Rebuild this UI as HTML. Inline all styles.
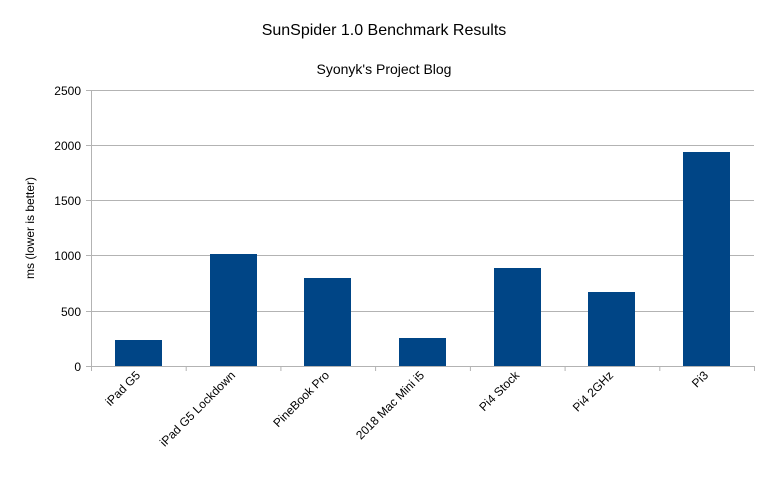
<!DOCTYPE html>
<html><head><style>body{margin:0;background:#fff}svg{display:block}</style></head><body>
<svg width="768" height="480" xmlns="http://www.w3.org/2000/svg" font-family="Liberation Sans, sans-serif">
<rect width="768" height="480" fill="#fff"/>
<text x="384" y="35" text-anchor="middle" font-size="16">SunSpider 1.0 Benchmark Results</text>
<text x="384" y="74" text-anchor="middle" font-size="14">Syonyk's Project Blog</text>
<g stroke="#b3b3b3" stroke-width="1">
<line x1="86" y1="90.5" x2="754" y2="90.5"/>
<line x1="86" y1="145.5" x2="754" y2="145.5"/>
<line x1="86" y1="200.5" x2="754" y2="200.5"/>
<line x1="86" y1="255.5" x2="754" y2="255.5"/>
<line x1="86" y1="311.5" x2="754" y2="311.5"/>
<line x1="86" y1="366.5" x2="754" y2="366.5"/>
<line x1="91.5" y1="90" x2="91.5" y2="371"/>
<line x1="186.2" y1="366" x2="186.2" y2="371"/>
<line x1="280.9" y1="366" x2="280.9" y2="371"/>
<line x1="375.6" y1="366" x2="375.6" y2="371"/>
<line x1="470.4" y1="366" x2="470.4" y2="371"/>
<line x1="565.1" y1="366" x2="565.1" y2="371"/>
<line x1="659.8" y1="366" x2="659.8" y2="371"/>
<line x1="754.5" y1="366" x2="754.5" y2="371"/>
</g>
<g font-size="12" text-anchor="end">
<text x="81" y="95">2500</text>
<text x="81" y="150">2000</text>
<text x="81" y="205">1500</text>
<text x="81" y="260">1000</text>
<text x="81" y="316">500</text>
<text x="81" y="371">0</text>
</g>
<text transform="translate(34,228) rotate(-90)" text-anchor="middle" font-size="12">ms (lower is better)</text>
<g fill="#004586">
<rect x="115" y="340" width="47" height="26"/>
<rect x="210" y="254" width="47" height="112"/>
<rect x="304" y="278" width="47" height="88"/>
<rect x="399" y="338" width="47" height="28"/>
<rect x="494" y="268" width="47" height="98"/>
<rect x="588" y="292" width="47" height="74"/>
<rect x="683" y="152" width="47" height="214"/>
</g>
<g font-size="12" text-anchor="end">
<text transform="translate(141,376) rotate(-45)">iPad G5</text>
<text transform="translate(236,376) rotate(-45)">iPad G5 Lockdown</text>
<text transform="translate(330,376) rotate(-45)">PineBook Pro</text>
<text transform="translate(425,376) rotate(-45)">2018 Mac Mini i5</text>
<text transform="translate(520,376) rotate(-45)">Pi4 Stock</text>
<text transform="translate(614,376) rotate(-45)">Pi4 2GHz</text>
<text transform="translate(709,376) rotate(-45)">Pi3</text>
</g>
</svg>
</body></html>
